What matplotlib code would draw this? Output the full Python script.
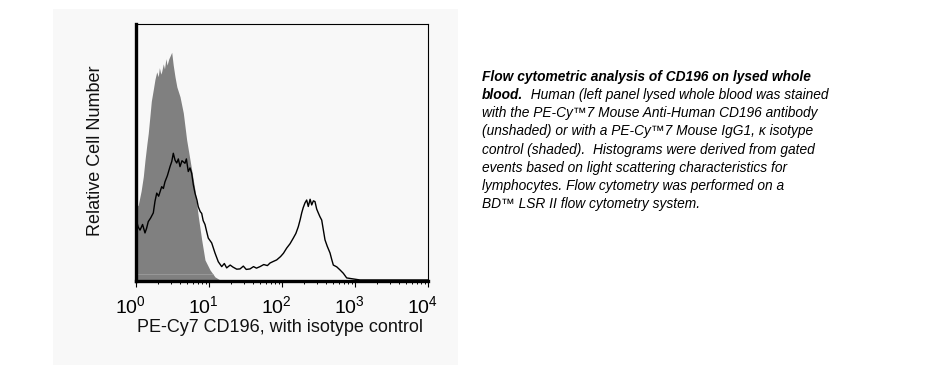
import matplotlib
matplotlib.use("Agg")
import matplotlib.pyplot as plt
import numpy as np
from matplotlib.patches import Rectangle
from matplotlib.transforms import ScaledTranslation

plt.rcParams['font.family'] = ['Liberation Sans', 'DejaVu Sans']
plt.rcParams['mathtext.fontset'] = 'custom'
plt.rcParams['mathtext.rm'] = 'Liberation Sans'
plt.rcParams['mathtext.it'] = 'Liberation Sans:italic'

# ---------------- data ----------------
# isotype control (shaded): log10 fluorescence, relative count
iso_log = [0.0, 0.03, 0.07, 0.10, 0.123, 0.15, 0.168, 0.19, 0.21, 0.237, 0.26, 0.284,
           0.305, 0.32, 0.34, 0.352, 0.374, 0.39, 0.41, 0.425, 0.45, 0.466, 0.489,
           0.51, 0.534, 0.56, 0.603, 0.648, 0.694, 0.740, 0.808, 0.853, 0.900,
           0.945, 1.014, 1.082, 1.151, 1.20]
iso_cnt = [28.8, 29.5, 35.0, 40.6, 47.0, 53.5, 57.5, 64.0, 70.0, 74.5, 78.5, 81.4,
           79.5, 83.0, 80.5, 81.5, 84.5, 82.5, 86.5, 84.0, 86.5, 87.5, 89.0,
           84.0, 79.5, 75.5, 71.7, 65.4, 54.9, 47.1, 35.4, 25.2, 16.0,
           8.2, 4.3, 1.6, 0.4, 0.0]
iso_floor = 2.6  # faint baseline level inside the shaded histogram

# CD196 stained (unshaded line)
cd_log = [0.0, 0.010, 0.03, 0.055, 0.09, 0.123, 0.145, 0.168, 0.20, 0.237, 0.26, 0.284,
          0.31, 0.352, 0.375, 0.397, 0.43, 0.466, 0.49, 0.511, 0.535, 0.558, 0.58,
          0.603, 0.63, 0.671, 0.69, 0.716, 0.74, 0.763, 0.785, 0.808, 0.835, 0.853,
          0.88, 0.900, 0.92, 0.945, 0.97, 0.990, 1.037, 1.082, 1.127, 1.174, 1.21,
          1.242, 1.29, 1.329, 1.38, 1.425, 1.47, 1.51, 1.562, 1.61, 1.65, 1.699,
          1.75, 1.80, 1.836, 1.88, 1.927, 1.98, 2.02, 2.064, 2.11, 2.155, 2.19,
          2.223, 2.25, 2.270, 2.29, 2.315, 2.338, 2.36, 2.385, 2.407, 2.43, 2.452,
          2.475, 2.497, 2.52, 2.544, 2.589, 2.62, 2.658, 2.68, 2.703, 2.75, 2.795,
          2.84, 2.886, 2.93, 2.977, 3.068, 3.2, 4.0]
cd_cnt = [22.0, 23.1, 21.0, 19.8, 22.0, 18.7, 20.5, 23.1, 24.5, 26.5, 31.0, 34.2,
          33.0, 36.7, 36.0, 38.6, 41.0, 44.5, 46.5, 49.7, 47.0, 45.9, 47.5,
          44.5, 46.8, 45.8, 47.5, 42.6, 44.0, 41.9, 37.5, 34.2, 31.5, 28.9,
          27.0, 26.3, 23.5, 22.0, 19.0, 16.7, 14.8, 10.9, 7.5, 5.6, 6.8,
          5.1, 6.2, 5.4, 4.6, 4.7, 5.8, 4.5, 4.7, 5.6, 5.0, 5.6,
          6.4, 6.0, 7.0, 7.6, 8.2, 9.5, 10.8, 12.8, 14.5, 16.7, 18.5,
          21.1, 24.0, 26.5, 28.5, 30.4, 31.5, 29.0, 31.8, 29.6, 31.2, 30.9,
          28.0, 26.5, 25.0, 23.7, 16.0, 13.5, 10.9, 8.5, 6.2, 5.5, 4.3,
          3.0, 1.2, 1.0, 0.8, 0.4, 0.4, 0.4]

tick_vals = [1, 10, 100, 1000, 10000]
tick_labels = [r'$10^{0}$', r'$10^{1}$', r'$10^{2}$', r'$10^{3}$', r'$10^{4}$']

# ---------------- figure ----------------
W, H = 927, 377
fig = plt.figure(figsize=(W / 100, H / 100), dpi=100)
fig.patch.set_facecolor('white')

bg = '#f8f8f8'
fig.patches.append(Rectangle((53 / W, 1 - 365 / H), (458 - 53) / W, (365 - 9) / H,
                             transform=fig.transFigure, facecolor=bg, edgecolor='none', zorder=-5))

ax = fig.add_axes([136 / W, 1 - 281 / H, (428 - 136) / W, (281 - 24) / H])
ax.set_zorder(2)
ax.set_facecolor(bg)
ax.set_xscale('log')
ax.set_xlim(1, 10000)
ax.set_ylim(0, 100)

iso_x = 10 ** np.array(iso_log)
cd_x = 10 ** np.array(cd_log)
ax.fill_between(iso_x, 0, iso_cnt, color='#808080', linewidth=0, zorder=1)
ax.hlines(iso_floor, 1, 10 ** 1.06, color='#9c9c9c', linewidth=0.6, zorder=1.5)
ax.plot(cd_x, cd_cnt, color='black', linewidth=1.0, zorder=2)

for s in ['left', 'bottom']:
    ax.spines[s].set_linewidth(2.4)
for s in ['top', 'right']:
    ax.spines[s].set_linewidth(0.8)

ax.set_yticks([])
ax.set_xticks(tick_vals)
ax.set_xticklabels(tick_labels, fontsize=14)
ax.tick_params(axis='x', which='major', direction='out', length=4, width=0.8, pad=6.5)
ax.tick_params(axis='x', which='minor', direction='out', length=2.2, width=0.7)
ax.xaxis.set_minor_locator(matplotlib.ticker.LogLocator(base=10, subs=np.arange(2, 10)))
ax.xaxis.set_minor_formatter(matplotlib.ticker.NullFormatter())
shift = ScaledTranslation(-6 / 100, 0, fig.dpi_scale_trans)
for lab in ax.get_xticklabels():
    lab.set_transform(lab.get_transform() + shift)

fig.text(280 / W, 1 - 328 / H, 'PE-Cy7 CD196, with isotype control', ha='center', va='center',
         fontsize=13, color='#111111', zorder=3)
fig.text(95 / W, 1 - 151 / H, 'Relative Cell Number', ha='center', va='center',
         rotation=90, fontsize=13, color='#111111', zorder=3)

# ---------------- caption ----------------
fs = 9.9
x0 = 482 / W
base0 = 80.7
step = 18.23
fig.text(x0, 1 - base0 / H, 'Flow cytometric analysis of CD196 on lysed whole',
         fontsize=fs, style='italic', weight='bold', va='baseline', ha='left')
t = fig.text(x0, 1 - (base0 + step) / H, 'blood.', fontsize=fs, style='italic',
             weight='bold', va='baseline', ha='left')
fig.canvas.draw()
bb = t.get_window_extent(renderer=fig.canvas.get_renderer())
fig.text(bb.x1 / W, 1 - (base0 + step) / H, '  Human (left panel lysed whole blood was stained',
         fontsize=fs, style='italic', va='baseline', ha='left')
rest = ['with the PE-Cy™7 Mouse Anti-Human CD196 antibody',
        '(unshaded) or with a PE-Cy™7 Mouse IgG1, κ isotype',
        'control (shaded).  Histograms were derived from gated',
        'events based on light scattering characteristics for',
        'lymphocytes. Flow cytometry was performed on a',
        'BD™ LSR II flow cytometry system.']
for i, line in enumerate(rest):
    fig.text(x0, 1 - (base0 + step * (i + 2)) / H, line, fontsize=fs, style='italic',
             va='baseline', ha='left')

fig.savefig('out.png', dpi=100, facecolor='white')
